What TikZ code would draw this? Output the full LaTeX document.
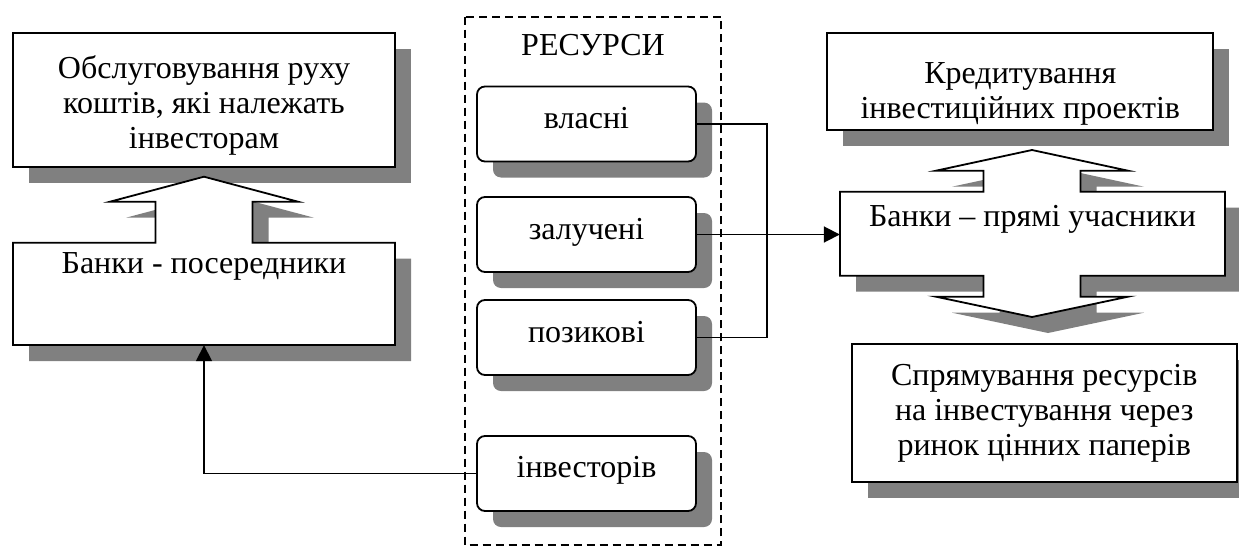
\documentclass[tikz,border=0pt]{standalone}
\usepackage{fontspec}
\setmainfont{Liberation Serif}
\usetikzlibrary{arrows.meta,shadows}
\definecolor{shadowgray}{HTML}{808080}
\tikzset{
  shbox/.style={drop shadow={shadow xshift=16pt, shadow yshift=-16pt, opacity=1, fill=shadowgray, draw=none}},
  box/.style={draw=black, line width=1.8pt, fill=white, shbox},
  rbox/.style={draw=black, line width=1.8pt, fill=white, rounded corners=8pt, shbox,
               minimum width=219pt, minimum height=75pt, inner sep=0pt},
  anchorbox/.style={draw=none, inner sep=0pt},
  lbl/.style={font=\fontsize{32}{35}\selectfont, align=center, anchor=base, inner sep=0pt},
  conn/.style={line width=1.8pt},
  arr/.style={-{Triangle[length=16pt,width=16pt]}},
  dashbox/.style={draw=black, line width=1.6pt, dash pattern=on 8pt off 5pt}
}
\begin{document}
\begin{tikzpicture}[x=1pt,y=-1pt]
\useasboundingbox (0,0) rectangle (1239,549);

% dashed resources frame
\draw[dashbox] (465,16.7) rectangle (721,545);
\node[lbl] (res) at (593,55) {РЕСУРСИ};

% resource boxes
\node[rbox] (vlasni) at (586.5,124) {};
\node[lbl] (tvlasni) at (586.5,128) {власні};
\node[rbox] (zaluch) at (586.5,234.5) {};
\node[lbl] (tzaluch) at (586.5,239) {залучені};
\node[rbox] (pozyk) at (586.5,337.5) {};
\node[lbl] (tpozyk) at (586.5,342) {позикові};
\node[rbox] (invest) at (586.5,473.5) {};
\node[lbl] (tinvest) at (586.5,477) {інвесторів};

% left top box
\draw[box] (13,33) rectangle (395,166.7);
\node[anchorbox, minimum width=382pt, minimum height=133.7pt] (obsl) at (204,99.85) {};
\node[lbl] (tobsl) at (204,148.5) {Обслуговування руху\\коштів, які належать\\інвесторам};

% left bank box with up arrow
\draw[box] (13,345) -- (13,242.7) -- (155.5,242.7) -- (155.5,201.7) -- (110,201.7)
  -- (204,176.7) -- (298,201.7) -- (252.5,201.7) -- (252.5,242.7) -- (395,242.7)
  -- (395,345) -- cycle;
\node[anchorbox, minimum width=382pt, minimum height=102.3pt] (bpos) at (204,293.85) {};
\node[lbl] (tbpos) at (204,273) {Банки - посередники};

% right top box
\draw[box] (827.3,33.3) rectangle (1213.3,130);
\node[anchorbox, minimum width=386pt, minimum height=96.7pt] (kred) at (1020.3,81.65) {};
\node[lbl] (tkred) at (1020.3,118) {Кредитування\\інвестиційних проектів};

% right bank box with up and down arrows
\draw[box] (840,191.7) -- (983.5,191.7) -- (983.5,170.7) -- (936,170.7) -- (1032,150)
  -- (1128,170.7) -- (1080.5,170.7) -- (1080.5,191.7) -- (1225,191.7) -- (1225,275.7)
  -- (1080.5,275.7) -- (1080.5,296.7) -- (1128,296.7) -- (1032,317) -- (936,296.7)
  -- (983.5,296.7) -- (983.5,275.7) -- (840,275.7) -- cycle;
\node[anchorbox, minimum width=385pt, minimum height=84pt] (bpu) at (1032.5,233.7) {};
\node[lbl] (tbpu) at (1032.5,226.7) {Банки – прямі учасники};

% right bottom box
\draw[box] (851.7,344.3) rectangle (1236.7,482.3);
\node[anchorbox, minimum width=385pt, minimum height=138pt] (spr) at (1044.2,413.3) {};
\node[lbl] (tspr) at (1044.2,455) {Спрямування ресурсів\\на інвестування через\\ринок цінних паперів};

% connectors
\coordinate (j) at (767,124);
\draw[conn] (vlasni.east) -- (j) |- (pozyk.east);
\draw[conn,arr] (zaluch.east) -- (zaluch.east -| bpu.west);
\draw[conn,arr] (invest.west) -| (bpos.south);
\end{tikzpicture}
\end{document}
